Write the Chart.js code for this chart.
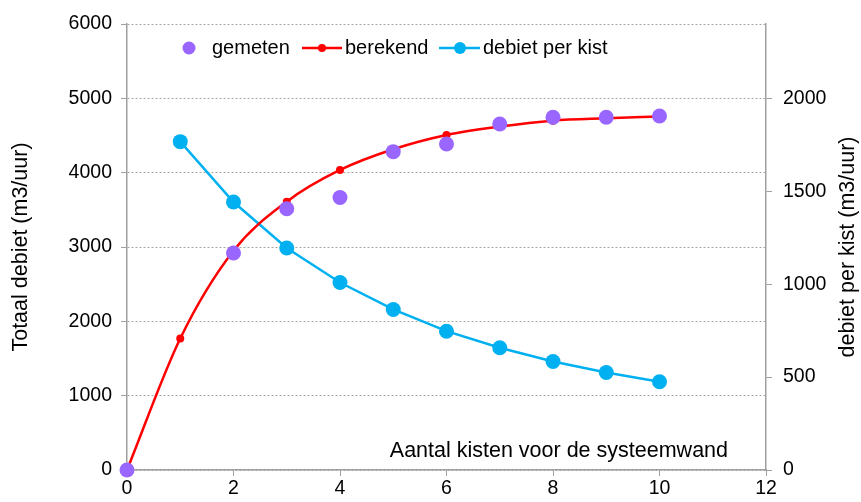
<!DOCTYPE html>
<html>
<head>
<meta charset="utf-8">
<title>Debiet systeemwand</title>
<script src="https://cdn.jsdelivr.net/npm/chart.js@4.4.1/dist/chart.umd.min.js"></script>
<style>
    body { margin: 0; background: #fff; }
    canvas { display: block; }
</style>
</head>
<body>
<canvas id="grafik" width="861" height="502"></canvas>
<script>

const kistenGemeten = [0, 2, 3, 4, 5, 6, 7, 8, 9, 10];
const gemeten = [0, 2920, 3515, 3665, 4283, 4385, 4655, 4745, 4745, 4762];

const kistenBerekend = [0, 1, 2, 3, 4, 5, 6, 7, 8, 9, 10];
const berekend = [0, 1770, 2950, 3610, 4036, 4315, 4507, 4620, 4700, 4731, 4755];

const kistenPerKist = [1, 2, 3, 4, 5, 6, 7, 8, 9, 10];
const debietPerKist = [1767, 1442, 1195, 1009, 864, 747, 658, 584, 525, 475];

const xTicks = [0, 12, 2];          // min, max, stap
const yLinksTicks = [0, 6000, 1000];
const yRechtsBereik = [0, 2400];
const yRechtsLabels = [0, 500, 1000, 1500, 2000];

const titelX = 'Aantal kisten voor de systeemwand';
const titelLinks = 'Totaal debiet (m3/uur)';
const titelRechts = 'debiet per kist (m3/uur)';

const paars = '#9966FF';
const rood = '#FF0000';
const blauw = '#00B0F0';
const grijs = '#A0A0A0';
const lettertype = '"Liberation Sans", Arial, sans-serif';

function punten(xs, ys)
{
    return xs.map(function(x, i) { return {x: x, y: ys[i]}; });
}

// legenda, as-titels en x-titel in de grafiek
const teksten =
{
    id: 'teksten',
    afterDraw: function(chart)
    {
        const ctx = chart.ctx;
        const area = chart.chartArea;
        const midden = (area.top + area.bottom) / 2;

        ctx.save();
        ctx.fillStyle = '#000';
        ctx.font = '20px ' + lettertype;
        ctx.textBaseline = 'middle';
        ctx.textAlign = 'left';

        // legenda
        const ly = 48;
        ctx.fillStyle = paars;
        ctx.beginPath(); ctx.arc(189, ly, 6.5, 0, Math.PI * 2); ctx.fill();
        ctx.fillStyle = '#000';
        ctx.fillText('gemeten', 212, ly);

        ctx.strokeStyle = rood; ctx.lineWidth = 2.5;
        ctx.beginPath(); ctx.moveTo(302, ly); ctx.lineTo(342, ly); ctx.stroke();
        ctx.fillStyle = rood;
        ctx.beginPath(); ctx.arc(322, ly, 4, 0, Math.PI * 2); ctx.fill();
        ctx.fillStyle = '#000';
        ctx.fillText('berekend', 345, ly);

        ctx.strokeStyle = blauw;
        ctx.beginPath(); ctx.moveTo(439, ly); ctx.lineTo(480, ly); ctx.stroke();
        ctx.fillStyle = blauw;
        ctx.beginPath(); ctx.arc(460, ly, 6, 0, Math.PI * 2); ctx.fill();
        ctx.fillStyle = '#000';
        ctx.fillText('debiet per kist', 483, ly);

        // x-titel binnen de grafiek
        ctx.font = '21.5px ' + lettertype;
        ctx.textAlign = 'right';
        ctx.fillText(titelX, 728, 451);

        // y-titels
        ctx.textAlign = 'center';
        ctx.translate(21, midden);
        ctx.rotate(-Math.PI / 2);
        ctx.fillText(titelLinks, 0, 0);
        ctx.rotate(Math.PI / 2);
        ctx.translate(848 - 21, 0);
        ctx.rotate(-Math.PI / 2);
        ctx.fillText(titelRechts, 0, 0);
        ctx.restore();
    }
};

const tickFont = { family: lettertype, size: 19.5 };
const kaal = function(v) { return String(v); };

new Chart(document.getElementById('grafik'),
{
    type: 'line',
    data: {
        datasets: [
            {
                label: 'gemeten',
                data: punten(kistenGemeten, gemeten),
                yAxisID: 'y',
                showLine: false,
                backgroundColor: paars,
                borderColor: paars,
                pointRadius: 7.5,
                pointBorderWidth: 0,
                clip: false,
                order: 0
            },
            {
                label: 'berekend',
                data: punten(kistenBerekend, berekend),
                yAxisID: 'y',
                borderColor: rood,
                backgroundColor: rood,
                borderWidth: 2.5,
                pointRadius: 4,
                pointBorderWidth: 0,
                cubicInterpolationMode: 'monotone',
                clip: false,
                order: 1
            },
            {
                label: 'debiet per kist',
                data: punten(kistenPerKist, debietPerKist),
                yAxisID: 'y1',
                borderColor: blauw,
                backgroundColor: blauw,
                borderWidth: 2.5,
                pointRadius: 7.5,
                pointBorderWidth: 0,
                clip: false,
                order: 2
            }
        ]
    },
    options: {
        responsive: false,
        animation: false,
        layout: { padding: { top: 24, left: 0, right: 0, bottom: 0 } },
        plugins: {
            legend: { display: false },
            tooltip: { enabled: false }
        },
        scales: {
            x: {
                type: 'linear',
                min: xTicks[0],
                max: xTicks[1],
                ticks: { stepSize: xTicks[2], color: '#000', font: tickFont, padding: 1, callback: kaal },
                grid: { drawOnChartArea: false, tickLength: 6, tickColor: grijs, color: grijs },
                border: { color: grijs, width: 1.5 },
                afterFit: function(s) { s.height = 32; }
            },
            y: {
                position: 'left',
                min: yLinksTicks[0],
                max: yLinksTicks[1],
                ticks: { stepSize: yLinksTicks[2], color: '#000', font: tickFont, padding: 9, callback: kaal },
                grid: { color: '#A6A6A6', lineWidth: 1, tickLength: 6, tickColor: grijs },
                border: { color: grijs, width: 1.5, dash: [2, 2] },
                afterFit: function(s) { s.width = 127; }
            },
            y1: {
                position: 'right',
                min: yRechtsBereik[0],
                max: yRechtsBereik[1],
                ticks: { color: '#000', font: tickFont, padding: 11, callback: kaal },
                grid: { drawOnChartArea: false, tickLength: 6, tickColor: grijs, color: grijs },
                border: { color: grijs, width: 1.5 },
                afterBuildTicks: function(s) { s.ticks = yRechtsLabels.map(function(v) { return {value: v}; }); },
                afterFit: function(s) { s.width = 95; }
            }
        }
    },
    plugins: [teksten]
});

</script>
</body>
</html>
